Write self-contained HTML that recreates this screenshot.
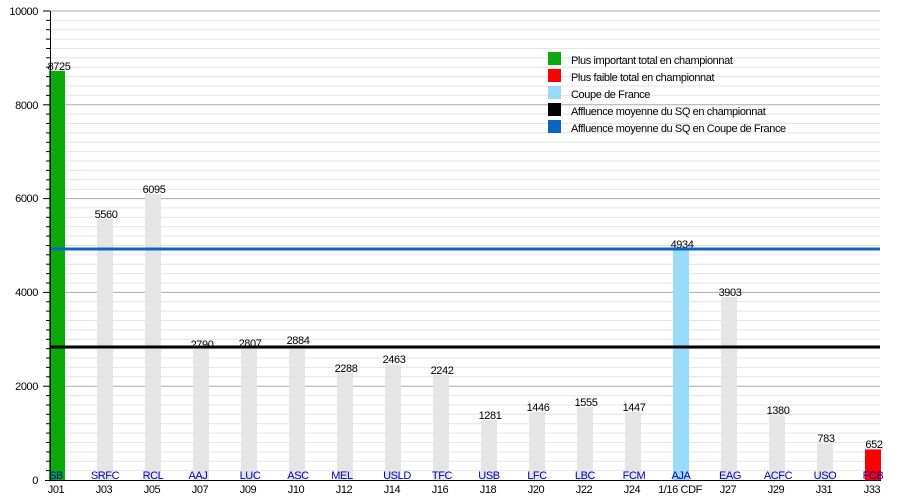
<!DOCTYPE html>
<html>
<head>
<meta charset="utf-8">
<style>
html,body{margin:0;padding:0;background:#fff;}
svg{display:block;font-family:"Liberation Sans",Arial,sans-serif;}
svg text{letter-spacing:-0.4px;}
</style>
</head>
<body>
<svg width="900" height="500" viewBox="0 0 900 500" xmlns="http://www.w3.org/2000/svg">
<rect x="0" y="0" width="900" height="500" fill="#fff"/>
<g stroke="#e4e4e4" stroke-width="1">
<line x1="50" x2="880" y1="470.6" y2="470.6"/><line x1="50" x2="880" y1="461.2" y2="461.2"/><line x1="50" x2="880" y1="451.9" y2="451.9"/><line x1="50" x2="880" y1="442.5" y2="442.5"/><line x1="50" x2="880" y1="433.1" y2="433.1"/><line x1="50" x2="880" y1="423.7" y2="423.7"/><line x1="50" x2="880" y1="414.3" y2="414.3"/><line x1="50" x2="880" y1="405.0" y2="405.0"/><line x1="50" x2="880" y1="395.6" y2="395.6"/>
<line x1="50" x2="880" y1="376.8" y2="376.8"/><line x1="50" x2="880" y1="367.4" y2="367.4"/><line x1="50" x2="880" y1="358.0" y2="358.0"/><line x1="50" x2="880" y1="348.7" y2="348.7"/><line x1="50" x2="880" y1="339.3" y2="339.3"/><line x1="50" x2="880" y1="329.9" y2="329.9"/><line x1="50" x2="880" y1="320.5" y2="320.5"/><line x1="50" x2="880" y1="311.1" y2="311.1"/><line x1="50" x2="880" y1="301.8" y2="301.8"/>
<line x1="50" x2="880" y1="283.0" y2="283.0"/><line x1="50" x2="880" y1="273.6" y2="273.6"/><line x1="50" x2="880" y1="264.2" y2="264.2"/><line x1="50" x2="880" y1="254.8" y2="254.8"/><line x1="50" x2="880" y1="245.5" y2="245.5"/><line x1="50" x2="880" y1="236.1" y2="236.1"/><line x1="50" x2="880" y1="226.7" y2="226.7"/><line x1="50" x2="880" y1="217.3" y2="217.3"/><line x1="50" x2="880" y1="207.9" y2="207.9"/>
<line x1="50" x2="880" y1="189.2" y2="189.2"/><line x1="50" x2="880" y1="179.8" y2="179.8"/><line x1="50" x2="880" y1="170.4" y2="170.4"/><line x1="50" x2="880" y1="161.0" y2="161.0"/><line x1="50" x2="880" y1="151.6" y2="151.6"/><line x1="50" x2="880" y1="142.3" y2="142.3"/><line x1="50" x2="880" y1="132.9" y2="132.9"/><line x1="50" x2="880" y1="123.5" y2="123.5"/><line x1="50" x2="880" y1="114.1" y2="114.1"/>
<line x1="50" x2="880" y1="95.4" y2="95.4"/><line x1="50" x2="880" y1="86.0" y2="86.0"/><line x1="50" x2="880" y1="76.6" y2="76.6"/><line x1="50" x2="880" y1="67.2" y2="67.2"/><line x1="50" x2="880" y1="57.8" y2="57.8"/><line x1="50" x2="880" y1="48.5" y2="48.5"/><line x1="50" x2="880" y1="39.1" y2="39.1"/><line x1="50" x2="880" y1="29.7" y2="29.7"/><line x1="50" x2="880" y1="20.3" y2="20.3"/>
</g>
<g stroke="#aaaaaa" stroke-width="1">
<line x1="50" x2="880" y1="386.2" y2="386.2"/>
<line x1="50" x2="880" y1="292.4" y2="292.4"/>
<line x1="50" x2="880" y1="198.6" y2="198.6"/>
<line x1="50" x2="880" y1="104.8" y2="104.8"/>
<line x1="50" x2="880" y1="11" y2="11"/>
</g>
<g>
<rect x="49" y="70.8" width="16" height="409.2" fill="#0aaa0a"/>
<rect x="97" y="219.2" width="16" height="260.8" fill="#e5e5e5"/>
<rect x="145" y="194.1" width="16" height="285.9" fill="#e5e5e5"/>
<rect x="193" y="349.1" width="16" height="130.9" fill="#e5e5e5"/>
<rect x="241" y="348.4" width="16" height="131.6" fill="#e5e5e5"/>
<rect x="289" y="344.7" width="16" height="135.3" fill="#e5e5e5"/>
<rect x="337" y="372.7" width="16" height="107.3" fill="#e5e5e5"/>
<rect x="385" y="364.5" width="16" height="115.5" fill="#e5e5e5"/>
<rect x="433" y="374.8" width="16" height="105.2" fill="#e5e5e5"/>
<rect x="481" y="419.9" width="16" height="60.1" fill="#e5e5e5"/>
<rect x="529" y="412.2" width="16" height="67.8" fill="#e5e5e5"/>
<rect x="577" y="407.1" width="16" height="72.9" fill="#e5e5e5"/>
<rect x="625" y="412.1" width="16" height="67.9" fill="#e5e5e5"/>
<rect x="673" y="248.6" width="16" height="231.4" fill="#99dbfb"/>
<rect x="721" y="296.9" width="16" height="183.1" fill="#e5e5e5"/>
<rect x="769" y="415.3" width="16" height="64.7" fill="#e5e5e5"/>
<rect x="817" y="443.3" width="16" height="36.7" fill="#e5e5e5"/>
<rect x="865" y="449.4" width="16" height="30.6" fill="#ff0000"/>
</g>
<g font-size="11" fill="#000" text-anchor="middle">
<text x="59" y="70">8725</text>
<text x="106" y="218">5560</text>
<text x="154" y="193">6095</text>
<text x="202" y="348">2790</text>
<text x="250" y="347">2807</text>
<text x="298" y="344">2884</text>
<text x="346" y="372">2288</text>
<text x="394" y="363">2463</text>
<text x="442" y="374">2242</text>
<text x="490" y="419">1281</text>
<text x="538" y="411">1446</text>
<text x="586" y="406">1555</text>
<text x="634" y="411">1447</text>
<text x="682" y="248">4934</text>
<text x="730" y="296">3903</text>
<text x="778" y="414">1380</text>
<text x="826" y="442">783</text>
<text x="874" y="448">652</text>
</g>
<line x1="50" x2="880" y1="249" y2="249" stroke="#0a64c4" stroke-width="3"/>
<line x1="50" x2="880" y1="347" y2="347" stroke="#000" stroke-width="3"/>
<line x1="50.5" x2="50.5" y1="11" y2="480" stroke="#000" stroke-width="1"/>
<line x1="45" x2="881" y1="480.5" y2="480.5" stroke="#000" stroke-width="1"/>
<g stroke="#000" stroke-width="1">
<line x1="46" x2="50" y1="470.6" y2="470.6"/><line x1="46" x2="50" y1="461.2" y2="461.2"/><line x1="46" x2="50" y1="451.9" y2="451.9"/><line x1="46" x2="50" y1="442.5" y2="442.5"/><line x1="46" x2="50" y1="433.1" y2="433.1"/><line x1="46" x2="50" y1="423.7" y2="423.7"/><line x1="46" x2="50" y1="414.3" y2="414.3"/><line x1="46" x2="50" y1="405.0" y2="405.0"/><line x1="46" x2="50" y1="395.6" y2="395.6"/>
<line x1="46" x2="50" y1="376.8" y2="376.8"/><line x1="46" x2="50" y1="367.4" y2="367.4"/><line x1="46" x2="50" y1="358.0" y2="358.0"/><line x1="46" x2="50" y1="348.7" y2="348.7"/><line x1="46" x2="50" y1="339.3" y2="339.3"/><line x1="46" x2="50" y1="329.9" y2="329.9"/><line x1="46" x2="50" y1="320.5" y2="320.5"/><line x1="46" x2="50" y1="311.1" y2="311.1"/><line x1="46" x2="50" y1="301.8" y2="301.8"/>
<line x1="46" x2="50" y1="283.0" y2="283.0"/><line x1="46" x2="50" y1="273.6" y2="273.6"/><line x1="46" x2="50" y1="264.2" y2="264.2"/><line x1="46" x2="50" y1="254.8" y2="254.8"/><line x1="46" x2="50" y1="245.5" y2="245.5"/><line x1="46" x2="50" y1="236.1" y2="236.1"/><line x1="46" x2="50" y1="226.7" y2="226.7"/><line x1="46" x2="50" y1="217.3" y2="217.3"/><line x1="46" x2="50" y1="207.9" y2="207.9"/>
<line x1="46" x2="50" y1="189.2" y2="189.2"/><line x1="46" x2="50" y1="179.8" y2="179.8"/><line x1="46" x2="50" y1="170.4" y2="170.4"/><line x1="46" x2="50" y1="161.0" y2="161.0"/><line x1="46" x2="50" y1="151.6" y2="151.6"/><line x1="46" x2="50" y1="142.3" y2="142.3"/><line x1="46" x2="50" y1="132.9" y2="132.9"/><line x1="46" x2="50" y1="123.5" y2="123.5"/><line x1="46" x2="50" y1="114.1" y2="114.1"/>
<line x1="46" x2="50" y1="95.4" y2="95.4"/><line x1="46" x2="50" y1="86.0" y2="86.0"/><line x1="46" x2="50" y1="76.6" y2="76.6"/><line x1="46" x2="50" y1="67.2" y2="67.2"/><line x1="46" x2="50" y1="57.8" y2="57.8"/><line x1="46" x2="50" y1="48.5" y2="48.5"/><line x1="46" x2="50" y1="39.1" y2="39.1"/><line x1="46" x2="50" y1="29.7" y2="29.7"/><line x1="46" x2="50" y1="20.3" y2="20.3"/>
<line x1="43" x2="50" y1="386.2" y2="386.2"/><line x1="43" x2="50" y1="292.4" y2="292.4"/><line x1="43" x2="50" y1="198.6" y2="198.6"/><line x1="43" x2="50" y1="104.8" y2="104.8"/><line x1="43" x2="50" y1="11" y2="11"/>
</g>
<g font-size="11" fill="#000" text-anchor="end">
<text x="38" y="484">0</text>
<text x="38" y="390">2000</text>
<text x="38" y="296">4000</text>
<text x="38" y="202">6000</text>
<text x="38" y="109">8000</text>
<text x="38" y="15">10000</text>
</g>
<g font-size="11" fill="#0000bb" text-anchor="middle">
<text x="56" y="479">SB</text>
<text x="105" y="479">SRFC</text>
<text x="153" y="479">RCL</text>
<text x="198" y="479">AAJ</text>
<text x="250" y="479">LUC</text>
<text x="298" y="479">ASC</text>
<text x="342" y="479">MEL</text>
<text x="397" y="479">USLD</text>
<text x="442" y="479">TFC</text>
<text x="489" y="479">USB</text>
<text x="537" y="479">LFC</text>
<text x="585" y="479">LBC</text>
<text x="634" y="479">FCM</text>
<text x="681" y="479">AJA</text>
<text x="730" y="479">EAG</text>
<text x="778" y="479">ACFC</text>
<text x="825" y="479">USO</text>
<text x="873" y="479">FCB</text>
</g>
<g font-size="11" fill="#000" text-anchor="middle">
<text x="56" y="493">J01</text>
<text x="104" y="493">J03</text>
<text x="152" y="493">J05</text>
<text x="200" y="493">J07</text>
<text x="248" y="493">J09</text>
<text x="296" y="493">J10</text>
<text x="344" y="493">J12</text>
<text x="392" y="493">J14</text>
<text x="440" y="493">J16</text>
<text x="488" y="493">J18</text>
<text x="536" y="493">J20</text>
<text x="584" y="493">J22</text>
<text x="632" y="493">J24</text>
<text x="680" y="493">1/16 CDF</text>
<text x="728" y="493">J27</text>
<text x="776" y="493">J29</text>
<text x="824" y="493">J31</text>
<text x="872" y="493">J33</text>
</g>
<g>
<rect x="548" y="52" width="13" height="13" fill="#0aaa0a"/>
<rect x="548" y="69" width="13" height="13" fill="#ff0000"/>
<rect x="548" y="86" width="13" height="13" fill="#99dbfb"/>
<rect x="548" y="103" width="13" height="13" fill="#000"/>
<rect x="548" y="120" width="13" height="13" fill="#0a64c4"/>
</g>
<g font-size="11" fill="#000">
<text x="571" y="64">Plus important total en championnat</text>
<text x="571" y="81">Plus faible total en championnat</text>
<text x="571" y="98">Coupe de France</text>
<text x="571" y="115">Affluence moyenne du SQ en championnat</text>
<text x="571" y="132">Affluence moyenne du SQ en Coupe de France</text>
</g>
</svg>
</body>
</html>
